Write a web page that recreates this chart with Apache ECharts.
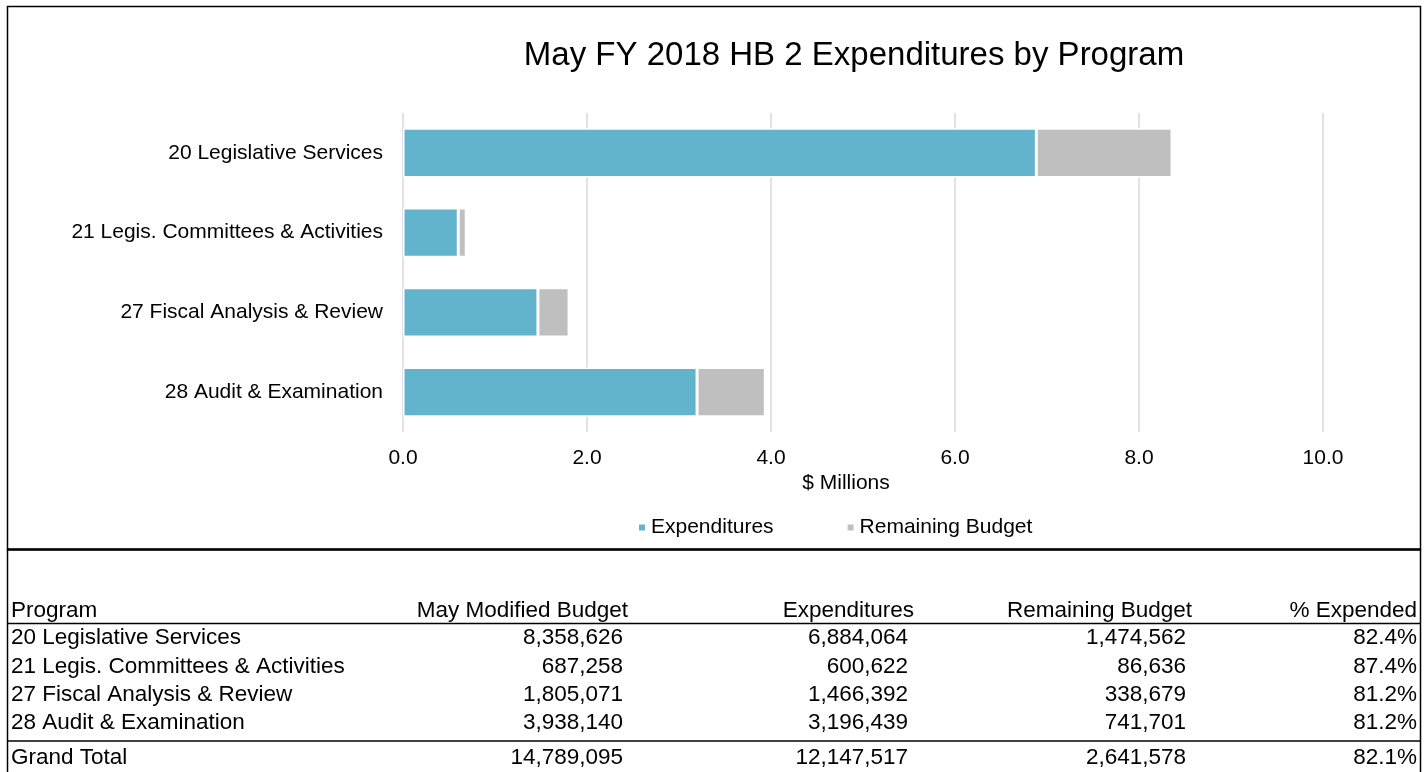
<!DOCTYPE html>
<html>
<head>
<meta charset="utf-8">
<script src="https://cdn.jsdelivr.net/npm/echarts@6/dist/echarts.min.js"></script>
<style>
  html, body { margin: 0; padding: 0; background: #fff; }
  #chart { width: 1427px; height: 772px; }
</style>
</head>
<body>
<div id="chart"></div>
<script>
// chart data
const programs = [
  '20 Legislative Services',
  '21 Legis. Committees & Activities',
  '27 Fiscal Analysis & Review',
  '28 Audit & Examination'
];
const budget = [8358626, 687258, 1805071, 3938140];
const expenditures = [6884064, 600622, 1466392, 3196439];
const remaining = [1474562, 86636, 338679, 741701];
const pctExpended = [82.4, 87.4, 81.2, 81.2];
const totals = { budget: 14789095, expenditures: 12147517, remaining: 2641578, pct: 82.1 };
const tableHeaders = ['Program', 'May Modified Budget', 'Expenditures', 'Remaining Budget', '% Expended'];
const xTicks = [0, 2, 4, 6, 8, 10];

const FONT = '"Liberation Sans", Arial, sans-serif';
const fmt = v => v.toLocaleString('en-US');

// table layout
const colRight = [null, 623, 908, 1186, 1417];
const headRight = [null, 628, 914, 1192, 1417];
const rowY = [638, 667, 695, 723];
const headY = 611;
const totalY = 758;

function txt(x, y, text, align) {
  return {
    type: 'text', x: x, y: y, silent: true,
    style: { text: text, fill: '#000', font: '22.5px ' + FONT, textAlign: align, textVerticalAlign: 'middle' }
  };
}
function line(x1, y1, x2, y2, w) {
  return { type: 'line', silent: true, shape: { x1, y1, x2, y2 }, style: { stroke: '#000', lineWidth: w } };
}

const graphics = [
  { type: 'rect', silent: true, shape: { x: 7.5, y: 6.5, width: 1413, height: 543 }, style: { fill: null, stroke: '#000', lineWidth: 1.5 } },
  line(7, 549.5, 1421, 549.5, 2.5),
  line(7.5, 549, 7.5, 772, 1.5),
  line(1420.5, 549, 1420.5, 772, 1.5),
  line(7, 623.5, 1421, 623.5, 1.5),
  line(7, 741, 1421, 741, 1.5)
];
graphics.push(txt(11, headY, tableHeaders[0], 'left'));
for (let c = 1; c < 5; c++) graphics.push(txt(headRight[c], headY, tableHeaders[c], 'right'));
programs.forEach((p, i) => {
  graphics.push(txt(11, rowY[i], p, 'left'));
  graphics.push(txt(colRight[1], rowY[i], fmt(budget[i]), 'right'));
  graphics.push(txt(colRight[2], rowY[i], fmt(expenditures[i]), 'right'));
  graphics.push(txt(colRight[3], rowY[i], fmt(remaining[i]), 'right'));
  graphics.push(txt(colRight[4], rowY[i], pctExpended[i].toFixed(1) + '%', 'right'));
});
graphics.push(txt(11, totalY, 'Grand Total', 'left'));
graphics.push(txt(colRight[1], totalY, fmt(totals.budget), 'right'));
graphics.push(txt(colRight[2], totalY, fmt(totals.expenditures), 'right'));
graphics.push(txt(colRight[3], totalY, fmt(totals.remaining), 'right'));
graphics.push(txt(colRight[4], totalY, totals.pct.toFixed(1) + '%', 'right'));

const chart = echarts.init(document.getElementById('chart'));
chart.setOption({
  animation: false,
  textStyle: { fontFamily: FONT },
  title: {
    text: 'May FY 2018 HB 2 Expenditures by Program',
    left: 849, top: 34, textAlign: 'center',
    textStyle: { fontSize: 33, fontWeight: 'normal', color: '#000', fontFamily: FONT }
  },
  legend: {
    left: 632, top: 512,
    icon: 'rect', itemWidth: 8, itemHeight: 8, itemGap: 72,
    textStyle: { fontSize: 21, color: '#000', fontFamily: FONT },
    data: ['Expenditures', 'Remaining Budget']
  },
  grid: { left: 403, right: 104, top: 113, bottom: 340, containLabel: false },
  xAxis: {
    type: 'value', min: xTicks[0], max: xTicks[xTicks.length - 1], interval: 2,
    name: '$ Millions', nameLocation: 'middle', nameGap: 41,
    nameTextStyle: { fontSize: 21, color: '#000', padding: [0, 34, 0, 0] },
    axisLine: { show: false }, axisTick: { show: false },
    axisLabel: { fontSize: 21, color: '#000', margin: 16, formatter: v => v.toFixed(1) },
    splitLine: { lineStyle: { color: '#d9d9d9', width: 1.5 } }
  },
  yAxis: {
    type: 'category', inverse: true, data: programs,
    axisLine: { show: false }, axisTick: { show: false },
    axisLabel: { fontSize: 21, color: '#000', margin: 20 }
  },
  series: [
    {
      name: 'Expenditures', type: 'bar', stack: 'total', barWidth: '62%',
      itemStyle: { color: '#62b3cc', borderColor: '#fff', borderWidth: 1.5 },
      data: expenditures.map(v => v / 1e6)
    },
    {
      name: 'Remaining Budget', type: 'bar', stack: 'total',
      itemStyle: { color: '#bfbfbf', borderColor: '#fff', borderWidth: 1.5 },
      data: remaining.map(v => v / 1e6)
    }
  ],
  graphic: graphics
});
</script>
</body>
</html>
